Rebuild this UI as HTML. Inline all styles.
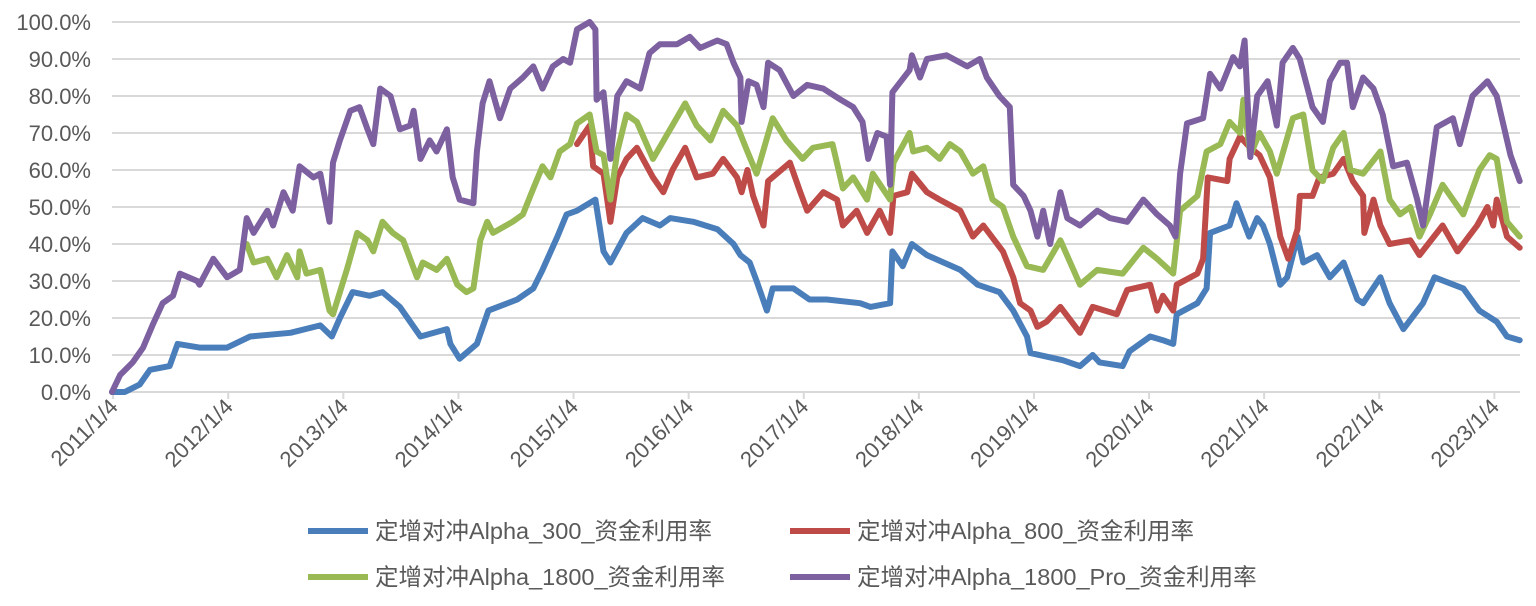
<!DOCTYPE html>
<html><head><meta charset="utf-8"><style>
html,body{margin:0;padding:0;background:#fff;}
svg{display:block;font-family:"Liberation Sans","Noto Sans CJK SC",sans-serif;}
</style></head><body>
<svg id="chart" width="1536" height="606" viewBox="0 0 1536 606" xmlns="http://www.w3.org/2000/svg">
<g id="grid"></g>
<g id="yaxis"></g>
<g id="xaxis"></g>
<g id="series"></g>
<g id="legend"></g>
</svg>
<script>
const yTicks = [0,10,20,30,40,50,60,70,80,90,100];
const xTickLabels = ["2011/1/4","2012/1/4","2013/1/4","2014/1/4","2015/1/4","2016/1/4","2017/1/4","2018/1/4","2019/1/4","2020/1/4","2021/1/4","2022/1/4","2023/1/4"];
const xTickYears = [2011,2012,2013,2014,2015,2016,2017,2018,2019,2020,2021,2022,2023];
const seriesNames = ["定增对冲Alpha_300_资金利用率","定增对冲Alpha_800_资金利用率","定增对冲Alpha_1800_资金利用率","定增对冲Alpha_1800_Pro_资金利用率"];

const blueDates = [2011.00,2011.11,2011.24,2011.33,2011.50,2011.57,2011.76,2012.00,2012.20,2012.55,2012.81,2012.91,2012.98,2013.09,2013.24,2013.35,2013.50,2013.68,2013.91,2013.94,2014.02,2014.17,2014.27,2014.52,2014.66,2014.74,2014.87,2014.95,2015.04,2015.20,2015.27,2015.33,2015.47,2015.61,2015.76,2015.85,2016.05,2016.26,2016.40,2016.46,2016.54,2016.60,2016.69,2016.74,2016.92,2017.06,2017.21,2017.50,2017.59,2017.76,2017.78,2017.87,2017.95,2018.08,2018.37,2018.52,2018.71,2018.83,2018.95,2018.98,2019.26,2019.41,2019.52,2019.58,2019.78,2019.84,2020.02,2020.13,2020.22,2020.25,2020.43,2020.51,2020.54,2020.71,2020.77,2020.88,2020.95,2021.00,2021.06,2021.15,2021.21,2021.30,2021.35,2021.47,2021.58,2021.70,2021.82,2021.87,2022.02,2022.10,2022.22,2022.39,2022.49,2022.74,2022.88,2023.03,2023.12,2023.23];
const blueVals = [0,0,2,6,7,13,12,12,15,16,18,15,20,27,26,27,23,15,17,13,9,13,22,25,28,33,42,48,49,52,38,35,43,47,45,47,46,44,40,37,35,30,22,28,28,25,25,24,23,24,38,34,40,37,33,29,27,22,15,10.5,8.6,7,10,8,7,11,15,14,13,21,24,28,43,45,51,42,47,45,40,29,31,42,35,37,31,35,25,24,31,24,17,24,31,28,22,19,15,14];

const redDates = [2015.04,2015.15,2015.18,2015.27,2015.33,2015.39,2015.47,2015.56,2015.70,2015.79,2015.87,2015.98,2016.08,2016.22,2016.31,2016.43,2016.47,2016.52,2016.57,2016.66,2016.70,2016.89,2016.98,2017.04,2017.18,2017.30,2017.35,2017.47,2017.56,2017.67,2017.76,2017.79,2017.91,2017.95,2018.08,2018.19,2018.37,2018.48,2018.57,2018.74,2018.83,2018.89,2018.98,2019.04,2019.12,2019.24,2019.41,2019.52,2019.73,2019.82,2020.02,2020.08,2020.13,2020.22,2020.25,2020.43,2020.48,2020.52,2020.69,2020.71,2020.80,2020.89,2020.97,2021.06,2021.15,2021.22,2021.30,2021.32,2021.43,2021.49,2021.61,2021.70,2021.78,2021.87,2021.88,2021.96,2022.02,2022.10,2022.28,2022.36,2022.56,2022.69,2022.86,2022.95,2023.00,2023.03,2023.12,2023.23];
const redVals = [67,72,61,59,46,58,63,66,58,54,60,66,58,59,63,58,54,60,53,45,57,62,54,49,54,52,45,49,43,49,43,53,54,59,54,52,49,42,45,38,31,24,22,17.6,19,23,16,23,21,27.6,29,22,26,22,29,32,36,58,57,63,69,66,64,58,42,36,44,53,53,58,59,63,57,53,43,52,45,40,41,37,45,38,45,50,45,52,42,39];

const greenDates = [2012.17,2012.23,2012.35,2012.43,2012.52,2012.61,2012.63,2012.69,2012.81,2012.89,2012.92,2013.04,2013.13,2013.22,2013.27,2013.35,2013.44,2013.53,2013.65,2013.70,2013.82,2013.91,2014.00,2014.08,2014.14,2014.20,2014.26,2014.31,2014.48,2014.57,2014.66,2014.74,2014.81,2014.89,2014.98,2015.04,2015.15,2015.21,2015.27,2015.33,2015.39,2015.47,2015.56,2015.70,2015.85,2015.98,2016.08,2016.20,2016.31,2016.43,2016.52,2016.60,2016.74,2016.86,2017.00,2017.09,2017.26,2017.35,2017.44,2017.56,2017.61,2017.76,2017.79,2017.93,2017.96,2018.08,2018.19,2018.28,2018.37,2018.48,2018.57,2018.65,2018.74,2018.83,2018.95,2019.09,2019.24,2019.41,2019.56,2019.78,2019.96,2020.08,2020.22,2020.28,2020.43,2020.51,2020.63,2020.71,2020.80,2020.83,2020.89,2020.97,2021.06,2021.12,2021.26,2021.35,2021.43,2021.52,2021.61,2021.70,2021.76,2021.87,2022.02,2022.10,2022.19,2022.28,2022.36,2022.45,2022.56,2022.74,2022.88,2022.97,2023.03,2023.12,2023.23];
const greenVals = [40,35,36,31,37,31,38,32,33,22,21,33,43,41,38,46,43,41,31,35,33,36,29,27,28,41,46,43,46,48,55,61,58,65,67,72.6,75,65,64,52,65,75,73,63,71,78,72,68,76,72,65,59,74,68,63,66,67,55,58,52,59,52,62,70,65,66,63,67,65,59,61,52,50,42,34,33,41,29,33,32,39,36,32,49,53,65,67,73,70,79,64,70,65,59,74,75,60,57,66,70,60,59,65,52,48,50,42,48,56,48,60,64,63,46,42];

const purpleDates = [2011.00,2011.07,2011.18,2011.27,2011.36,2011.44,2011.53,2011.59,2011.74,2011.76,2011.88,2012.00,2012.11,2012.17,2012.23,2012.35,2012.40,2012.49,2012.57,2012.63,2012.75,2012.81,2012.89,2012.92,2012.98,2013.07,2013.15,2013.22,2013.27,2013.33,2013.42,2013.50,2013.59,2013.62,2013.68,2013.76,2013.82,2013.91,2013.96,2014.02,2014.14,2014.17,2014.22,2014.28,2014.37,2014.46,2014.57,2014.66,2014.74,2014.83,2014.92,2014.98,2015.04,2015.15,2015.20,2015.21,2015.27,2015.33,2015.39,2015.47,2015.59,2015.67,2015.76,2015.91,2016.02,2016.11,2016.26,2016.34,2016.40,2016.46,2016.47,2016.53,2016.60,2016.66,2016.70,2016.80,2016.92,2017.04,2017.18,2017.33,2017.44,2017.52,2017.57,2017.65,2017.73,2017.76,2017.78,2017.93,2017.95,2018.02,2018.08,2018.25,2018.43,2018.54,2018.60,2018.71,2018.80,2018.83,2018.92,2018.98,2019.04,2019.09,2019.15,2019.24,2019.30,2019.41,2019.56,2019.67,2019.82,2019.96,2020.08,2020.19,2020.24,2020.28,2020.34,2020.48,2020.54,2020.63,2020.74,2020.80,2020.84,2020.89,2020.95,2021.04,2021.12,2021.17,2021.26,2021.32,2021.43,2021.52,2021.58,2021.67,2021.73,2021.78,2021.87,2021.96,2022.04,2022.13,2022.25,2022.34,2022.39,2022.51,2022.65,2022.71,2022.82,2022.95,2023.03,2023.15,2023.23];
const purpleVals = [0,4.6,8,12,18.6,24,26,32,30,29,36,31,33,47,43,49,45,54,49,61,58,59,46,62,68,76,77,71,67,82,80,71,72,76,63,68,65,71,58,52,51,65,78,84,74,82,85,88,82,88,90,89,98,100,98,79,81,63,80,84,82,91.6,94,94,96,93,95,94,89,85,73,84,83,77,89,87,80,83,82,79,77,73,63,70,69,56,81,87,91,85,90,91,88,90,85,80,77,56,53,49,42,49,40,54,47,45,49,47,46,52,48,45,42,59,72.6,74,86,82,90.5,88,95,63.5,80,84,72,89,93,90,77,73,84,89,89,77,85,82,75,61,62,52,45,71.6,74,67,80,84,80,64,57];

const SVGNS = "http://www.w3.org/2000/svg";
const X0 = 112, X1 = 1520, YEAR_PX = 115.1;
const Y0 = 392, Y100 = 22;
function xScale(d){ return X0 + (d - 2011.0) * YEAR_PX; }
function yScale(v){ return Y0 - (v/100) * (Y0 - Y100); }
function mk(tag, attrs){ const e = document.createElementNS(SVGNS, tag); for (const k in attrs) e.setAttribute(k, attrs[k]); return e; }

const grid = document.getElementById('grid');
const yaxis = document.getElementById('yaxis');
yTicks.forEach(function(t){
  const y = yScale(t);
  const ln = mk('line', {x1:X0, x2:X1, y1:y, y2:y, stroke:'#d9d9d9', 'stroke-width':2});
  
  
  grid.appendChild(ln);
  const tx = mk('text', {x:91, y:y+8, 'text-anchor':'end', 'font-size':22, fill:'#595959'});
  tx.textContent = t.toFixed(1) + '%';
  
  
  yaxis.appendChild(tx);
});

const xaxis = document.getElementById('xaxis');
xTickYears.forEach(function(yr, i){
  const x = xScale(yr + 0.01);
  const tk = mk('line', {x1:x, x2:x, y1:Y0, y2:Y0+7, stroke:'#d9d9d9', 'stroke-width':2});
  
  
  xaxis.appendChild(tk);
  const tx = mk('text', {x:x+6, y:Y0+16, 'text-anchor':'end', 'font-size':22, fill:'#595959', transform:'rotate(-45 ' + (x+6) + ' ' + (Y0+16) + ')'});
  tx.textContent = xTickLabels[i];
  
  
  xaxis.appendChild(tx);
});

const series = document.getElementById('series');
const colors = ['#4a7ebb','#be4b48','#98b954','#7d60a0'];
const allDates = [blueDates, redDates, greenDates, purpleDates];
const allVals = [blueVals, redVals, greenVals, purpleVals];
const seriesKeys = ['series-alpha-300','series-alpha-800','series-alpha-1800','series-alpha-1800-pro'];
[0,1,2,3].forEach(function(s){
  const ds = allDates[s], vs = allVals[s];
  let d = '';
  for (let i = 0; i < ds.length; i++) d += (i ? 'L' : 'M') + xScale(ds[i]).toFixed(1) + ' ' + yScale(vs[i]).toFixed(1);
  const p = mk('path', {d:d, fill:'none', stroke:colors[s], 'stroke-width':6, 'stroke-linejoin':'round', 'stroke-linecap':'round'});
  
  
  series.appendChild(p);
});

const legend = document.getElementById('legend');
const legendPos = [[308,531],[790,531],[308,577],[790,577]];
seriesNames.forEach(function(n, i){
  const px = legendPos[i][0], py = legendPos[i][1];
  const g = mk('g', {});
  
  
  const ln = mk('line', {x1:px, x2:px+60, y1:py, y2:py, stroke:colors[i], 'stroke-width':6});
  
  
  g.appendChild(ln);
  const tx = mk('text', {x:px+67, y:py+8, 'font-size':23.5, fill:'#595959'});
  tx.textContent = n;
  
  
  g.appendChild(tx);
  legend.appendChild(g);
});
</script>
</body></html>
